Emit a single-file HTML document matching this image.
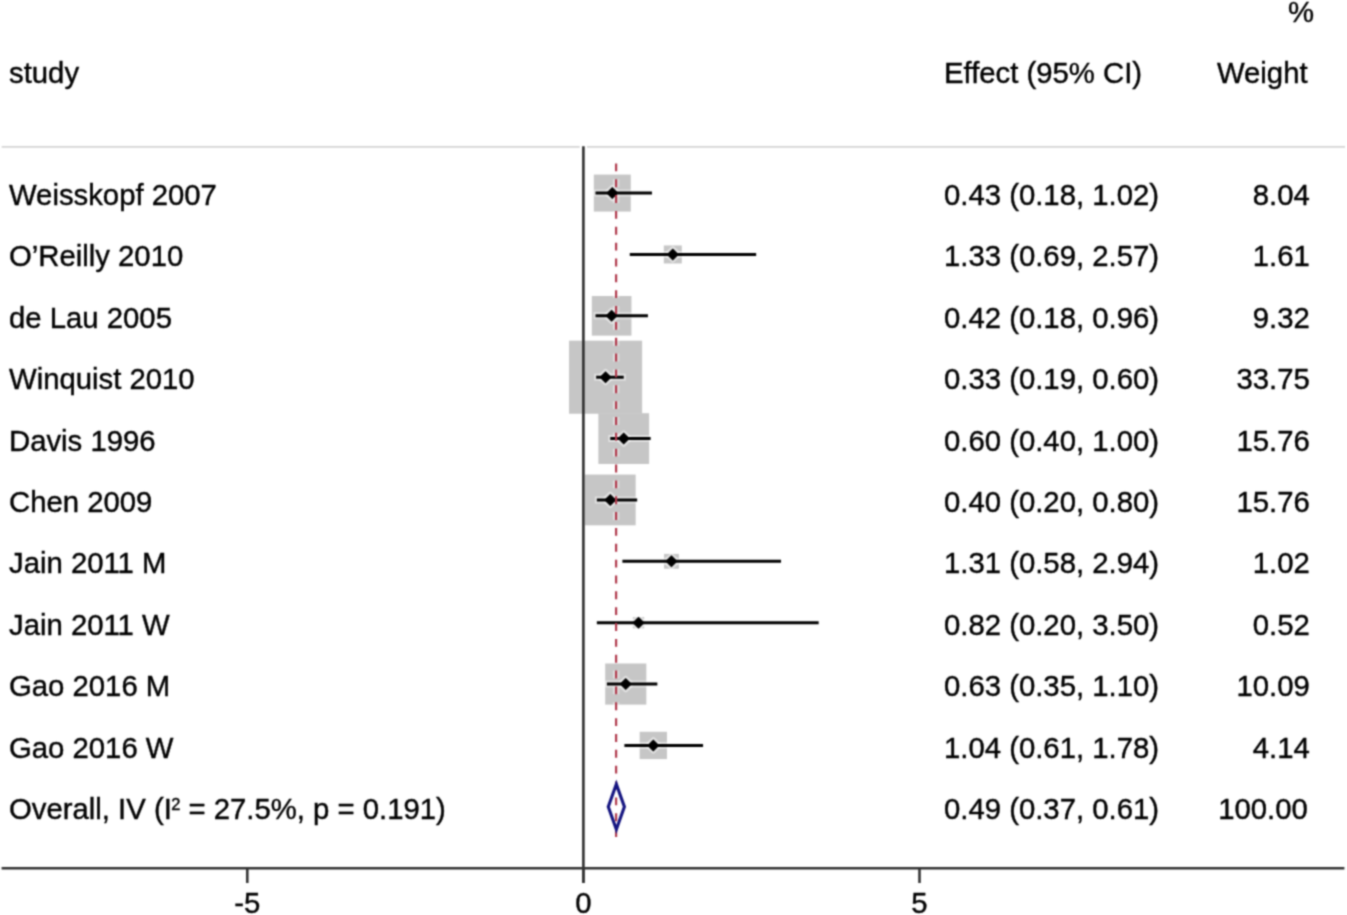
<!DOCTYPE html><html><head><meta charset="utf-8"><style>html,body{margin:0;padding:0;background:#fff;}svg{display:block;}text{font-family:"Liberation Sans",sans-serif;font-size:29.30px;fill:#000;stroke:#000;stroke-width:0.4px;}</style></head><body>
<svg width="1347" height="915" viewBox="0 0 1347 915">
<defs><filter id="bl" x="0" y="0" width="1347" height="915" filterUnits="userSpaceOnUse" color-interpolation-filters="sRGB"><feConvolveMatrix order="5" kernelMatrix="0.00023 0.00332 0.00809 0.00332 0.00023 0.00332 0.04785 0.11640 0.04785 0.00332 0.00809 0.11640 0.28313 0.11640 0.00809 0.00332 0.04785 0.11640 0.04785 0.00332 0.00023 0.00332 0.00809 0.00332 0.00023" edgeMode="duplicate"/></filter></defs><g filter="url(#bl)">
<rect width="1347" height="915" fill="#fff"/>
<text x="1314.0" y="21.5" text-anchor="end">%</text>
<text x="9.0" y="82.8">study</text>
<text x="944.0" y="82.8">Effect (95% CI)</text>
<text x="1307.6" y="82.8" text-anchor="end">Weight</text>
<line x1="1.7" y1="146.8" x2="1345" y2="146.8" stroke="#d4d4d4" stroke-width="1.8"/>
<rect x="593.81" y="174.60" width="36.99" height="36.99" fill="#c6c6c6"/>
<rect x="663.81" y="245.47" width="17.99" height="17.99" fill="#c6c6c6"/>
<rect x="591.82" y="296.02" width="39.63" height="39.63" fill="#c6c6c6"/>
<rect x="569.05" y="340.68" width="73.07" height="73.07" fill="#c6c6c6"/>
<rect x="598.35" y="413.20" width="50.75" height="50.75" fill="#c6c6c6"/>
<rect x="584.91" y="474.57" width="50.75" height="50.75" fill="#c6c6c6"/>
<rect x="664.03" y="553.89" width="14.85" height="14.85" fill="#c6c6c6"/>
<rect x="632.85" y="617.02" width="11.35" height="11.35" fill="#c6c6c6"/>
<rect x="605.18" y="663.49" width="41.13" height="41.13" fill="#c6c6c6"/>
<rect x="639.67" y="731.79" width="27.28" height="27.28" fill="#c6c6c6"/>
<rect x="579.7" y="145" width="7.3" height="4" fill="#fff"/>
<line x1="583.4" y1="146.2" x2="583.4" y2="883" stroke="#2e2e2e" stroke-width="2.6"/>
<line x1="593.50" y1="193.10" x2="653.96" y2="193.10" stroke="#fff" stroke-opacity="0.45" stroke-width="7"/>
<path d="M606.10 193.10L612.30 187.10L618.50 193.10L612.30 199.10Z" fill="none" stroke="#fff" stroke-opacity="0.45" stroke-width="4.5" stroke-linejoin="round"/>
<line x1="627.78" y1="254.47" x2="758.16" y2="254.47" stroke="#fff" stroke-opacity="0.45" stroke-width="7"/>
<path d="M666.60 254.47L672.80 248.47L679.00 254.47L672.80 260.47Z" fill="none" stroke="#fff" stroke-opacity="0.45" stroke-width="4.5" stroke-linejoin="round"/>
<line x1="593.50" y1="315.84" x2="649.93" y2="315.84" stroke="#fff" stroke-opacity="0.45" stroke-width="7"/>
<path d="M605.43 315.84L611.63 309.84L617.83 315.84L611.63 321.84Z" fill="none" stroke="#fff" stroke-opacity="0.45" stroke-width="4.5" stroke-linejoin="round"/>
<line x1="594.17" y1="377.21" x2="625.73" y2="377.21" stroke="#fff" stroke-opacity="0.45" stroke-width="7"/>
<path d="M599.38 377.21L605.58 371.21L611.78 377.21L605.58 383.21Z" fill="none" stroke="#fff" stroke-opacity="0.45" stroke-width="4.5" stroke-linejoin="round"/>
<line x1="608.29" y1="438.58" x2="652.62" y2="438.58" stroke="#fff" stroke-opacity="0.45" stroke-width="7"/>
<path d="M617.53 438.58L623.73 432.58L629.93 438.58L623.73 444.58Z" fill="none" stroke="#fff" stroke-opacity="0.45" stroke-width="4.5" stroke-linejoin="round"/>
<line x1="594.84" y1="499.95" x2="639.18" y2="499.95" stroke="#fff" stroke-opacity="0.45" stroke-width="7"/>
<path d="M604.09 499.95L610.29 493.95L616.49 499.95L610.29 505.95Z" fill="none" stroke="#fff" stroke-opacity="0.45" stroke-width="4.5" stroke-linejoin="round"/>
<line x1="620.39" y1="561.32" x2="783.03" y2="561.32" stroke="#fff" stroke-opacity="0.45" stroke-width="7"/>
<path d="M665.26 561.32L671.46 555.32L677.66 561.32L671.46 567.32Z" fill="none" stroke="#fff" stroke-opacity="0.45" stroke-width="4.5" stroke-linejoin="round"/>
<line x1="594.84" y1="622.69" x2="820.67" y2="622.69" stroke="#fff" stroke-opacity="0.45" stroke-width="7"/>
<path d="M632.32 622.69L638.52 616.69L644.72 622.69L638.52 628.69Z" fill="none" stroke="#fff" stroke-opacity="0.45" stroke-width="4.5" stroke-linejoin="round"/>
<line x1="604.93" y1="684.06" x2="659.34" y2="684.06" stroke="#fff" stroke-opacity="0.45" stroke-width="7"/>
<path d="M619.55 684.06L625.75 678.06L631.95 684.06L625.75 690.06Z" fill="none" stroke="#fff" stroke-opacity="0.45" stroke-width="4.5" stroke-linejoin="round"/>
<line x1="622.40" y1="745.43" x2="705.05" y2="745.43" stroke="#fff" stroke-opacity="0.45" stroke-width="7"/>
<path d="M647.11 745.43L653.31 739.43L659.51 745.43L653.31 751.43Z" fill="none" stroke="#fff" stroke-opacity="0.45" stroke-width="4.5" stroke-linejoin="round"/>
<line x1="616.10" y1="163.4" x2="616.10" y2="837" stroke="#fff" stroke-opacity="0.4" stroke-width="6.5" stroke-dasharray="7.9 7.95"/>
<line x1="595.50" y1="193.10" x2="651.96" y2="193.10" stroke="#000" stroke-width="3.0"/>
<path d="M606.10 193.10L612.30 187.10L618.50 193.10L612.30 199.10Z" fill="#000"/>
<line x1="629.78" y1="254.47" x2="756.16" y2="254.47" stroke="#000" stroke-width="3.0"/>
<path d="M666.60 254.47L672.80 248.47L679.00 254.47L672.80 260.47Z" fill="#000"/>
<line x1="595.50" y1="315.84" x2="647.93" y2="315.84" stroke="#000" stroke-width="3.0"/>
<path d="M605.43 315.84L611.63 309.84L617.83 315.84L611.63 321.84Z" fill="#000"/>
<line x1="596.17" y1="377.21" x2="623.73" y2="377.21" stroke="#000" stroke-width="3.0"/>
<path d="M599.38 377.21L605.58 371.21L611.78 377.21L605.58 383.21Z" fill="#000"/>
<line x1="610.29" y1="438.58" x2="650.62" y2="438.58" stroke="#000" stroke-width="3.0"/>
<path d="M617.53 438.58L623.73 432.58L629.93 438.58L623.73 444.58Z" fill="#000"/>
<line x1="596.84" y1="499.95" x2="637.18" y2="499.95" stroke="#000" stroke-width="3.0"/>
<path d="M604.09 499.95L610.29 493.95L616.49 499.95L610.29 505.95Z" fill="#000"/>
<line x1="622.39" y1="561.32" x2="781.03" y2="561.32" stroke="#000" stroke-width="3.0"/>
<path d="M665.26 561.32L671.46 555.32L677.66 561.32L671.46 567.32Z" fill="#000"/>
<line x1="596.84" y1="622.69" x2="818.67" y2="622.69" stroke="#000" stroke-width="3.0"/>
<path d="M632.32 622.69L638.52 616.69L644.72 622.69L638.52 628.69Z" fill="#000"/>
<line x1="606.93" y1="684.06" x2="657.34" y2="684.06" stroke="#000" stroke-width="3.0"/>
<path d="M619.55 684.06L625.75 678.06L631.95 684.06L625.75 690.06Z" fill="#000"/>
<line x1="624.40" y1="745.43" x2="703.05" y2="745.43" stroke="#000" stroke-width="3.0"/>
<path d="M647.11 745.43L653.31 739.43L659.51 745.43L653.31 751.43Z" fill="#000"/>
<line x1="616.10" y1="163.4" x2="616.10" y2="837" stroke="#b03a4c" stroke-width="2.2" stroke-dasharray="7.9 7.95"/>
<path d="M608.27 806.80L616.34 784.20L624.40 806.80L616.34 829.40Z" fill="none" stroke="#141480" stroke-width="3.1" stroke-linejoin="miter"/>
<line x1="1.6" y1="868.2" x2="1344.4" y2="868.2" stroke="#333" stroke-width="2.6"/>
<line x1="247.3" y1="868.2" x2="247.3" y2="883" stroke="#333" stroke-width="2.6"/>
<text x="247.3" y="913.2" text-anchor="middle">-5</text>
<line x1="583.4" y1="868.2" x2="583.4" y2="883" stroke="#333" stroke-width="2.6"/>
<text x="583.4" y="913.2" text-anchor="middle">0</text>
<line x1="919.5" y1="868.2" x2="919.5" y2="883" stroke="#333" stroke-width="2.6"/>
<text x="919.5" y="913.2" text-anchor="middle">5</text>
<text x="9.0" y="204.80">Weisskopf 2007</text>
<text x="944.0" y="204.80">0.43 (0.18, 1.02)</text>
<text x="1309.8" y="204.80" text-anchor="end">8.04</text>
<text x="9.0" y="266.23">O’Reilly 2010</text>
<text x="944.0" y="266.23">1.33 (0.69, 2.57)</text>
<text x="1309.8" y="266.23" text-anchor="end">1.61</text>
<text x="9.0" y="327.66">de Lau 2005</text>
<text x="944.0" y="327.66">0.42 (0.18, 0.96)</text>
<text x="1309.8" y="327.66" text-anchor="end">9.32</text>
<text x="9.0" y="389.09">Winquist 2010</text>
<text x="944.0" y="389.09">0.33 (0.19, 0.60)</text>
<text x="1309.8" y="389.09" text-anchor="end">33.75</text>
<text x="9.0" y="450.52">Davis 1996</text>
<text x="944.0" y="450.52">0.60 (0.40, 1.00)</text>
<text x="1309.8" y="450.52" text-anchor="end">15.76</text>
<text x="9.0" y="511.95">Chen 2009</text>
<text x="944.0" y="511.95">0.40 (0.20, 0.80)</text>
<text x="1309.8" y="511.95" text-anchor="end">15.76</text>
<text x="9.0" y="573.38">Jain 2011 M</text>
<text x="944.0" y="573.38">1.31 (0.58, 2.94)</text>
<text x="1309.8" y="573.38" text-anchor="end">1.02</text>
<text x="9.0" y="634.81">Jain 2011 W</text>
<text x="944.0" y="634.81">0.82 (0.20, 3.50)</text>
<text x="1309.8" y="634.81" text-anchor="end">0.52</text>
<text x="9.0" y="696.24">Gao 2016 M</text>
<text x="944.0" y="696.24">0.63 (0.35, 1.10)</text>
<text x="1309.8" y="696.24" text-anchor="end">10.09</text>
<text x="9.0" y="757.67">Gao 2016 W</text>
<text x="944.0" y="757.67">1.04 (0.61, 1.78)</text>
<text x="1309.8" y="757.67" text-anchor="end">4.14</text>
<text x="9.0" y="819.10">Overall, IV (I<tspan font-size="16.5" dy="-9.2" dx="-0.6">2</tspan><tspan dy="9.2"> = 27.5%, p = 0.191)</tspan></text>
<text x="944.0" y="819.10">0.49 (0.37, 0.61)</text>
<text x="1307.8" y="819.10" text-anchor="end">100.00</text>
</g></svg></body></html>
